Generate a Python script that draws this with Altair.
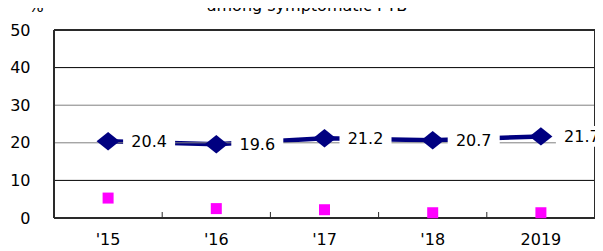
import altair as alt
import pandas as pd

years = ["'15", "'16", "'17", "'18", "2019"]
series_main = [20.4, 19.6, 21.2, 20.7, 21.7]
series_second = [5.3, 2.5, 2.2, 1.4, 1.4]
grid_values = [10, 20, 30, 40]
grid_colors = ["#000000", "#808080", "#808080", "#000000"]
y_tick_values = [0, 10, 20, 30, 40, 50]
title_text = "among symptomatic PTB*"
unit_text = "%"

W, H = 541, 188
FONT = "DejaVu Sans"

df = pd.DataFrame({"year": years, "main": series_main, "second": series_second,
                   "label": [f"{v:.1f}" for v in series_main]})
grid_df = pd.DataFrame({"g": grid_values})

yscale = alt.Scale(domain=[0, 50], nice=False, zero=True)
xenc = alt.X("year:N", sort=years, scale=alt.Scale(paddingInner=0, paddingOuter=0),
             axis=alt.Axis(title=None, ticks=False, domain=False, labelAngle=0,
                           labelFont=FONT, labelFontSize=16, labelColor="#000",
                           labelPadding=13, labelBaseline="top"))
yaxis = alt.Axis(title=None, values=y_tick_values, ticks=False, domain=False, grid=False,
                 labelFont=FONT, labelFontSize=16, labelColor="#000", labelPadding=24,
                 labelOverlap=False, labelFlush=False, labelBaseline="middle")

base = alt.Chart(df).encode(x=xenc)

def yq(field):
    return alt.Y(field, scale=yscale, axis=yaxis)

line = base.mark_line(color="#000080", strokeWidth=4.5).encode(y=yq("main:Q"))

grid = alt.Chart(grid_df).mark_rule(strokeWidth=1).encode(
    y=yq("g:Q"),
    color=alt.Color("g:N", scale=alt.Scale(domain=grid_values, range=grid_colors), legend=None),
)

frame_col = "#2a2a2a"
frame_top = alt.Chart(df).mark_rule(color=frame_col, strokeWidth=2).encode(
    x=alt.value(0), x2=alt.value(W), y=alt.value(0))
frame_bottom = alt.Chart(df).mark_rule(color=frame_col, strokeWidth=2).encode(
    x=alt.value(0), x2=alt.value(W), y=alt.value(H))
frame_left = alt.Chart(df).mark_rule(color=frame_col, strokeWidth=2).encode(
    x=alt.value(0), y=alt.value(0), y2=alt.value(H))
frame_right = alt.Chart(df).mark_rule(color=frame_col, strokeWidth=2).encode(
    x=alt.value(W), y=alt.value(0), y2=alt.value(H))

xticks = alt.Chart(df).mark_rule(color=frame_col, strokeWidth=1).encode(
    x=alt.X("year:N", sort=years, bandPosition=0),
    y=alt.value(H - 6), y2=alt.value(H))

diamonds = base.mark_point(shape="M-1,0L0,-0.8L1,0L0,0.8Z", filled=True, color="#000080",
                           opacity=1, size=530).encode(y=yq("main:Q"))
squares = base.mark_point(shape="square", filled=True, color="#FF00FF", opacity=1,
                          size=121).encode(y=yq("second:Q"))
boxes = base.mark_point(shape="M-1,-0.4H1V0.4H-1Z", filled=True, color="white", opacity=1,
                        size=2704, xOffset=41).encode(y=yq("main:Q"))
labels = base.mark_text(font=FONT, fontSize=16, color="#000", align="center",
                        baseline="middle", dx=41, dy=1).encode(
    y=yq("main:Q"), text="label:N")

title = alt.Chart(pd.DataFrame({"t": [title_text]})).mark_text(
    font=FONT, fontSize=16, color="#000", align="center", baseline="alphabetic").encode(
    x=alt.value(257), y=alt.value(-19), text="t:N")
unit = alt.Chart(pd.DataFrame({"t": [unit_text]})).mark_text(
    font=FONT, fontSize=16, color="#000", align="center", baseline="alphabetic").encode(
    x=alt.value(-18), y=alt.value(-18), text="t:N")

chart = alt.layer(
    line, grid, xticks, frame_top, frame_bottom, frame_left, frame_right,
    diamonds, squares, boxes, labels, title, unit
).resolve_scale(color="independent").properties(
    width=W, height=H,
    autosize=alt.AutoSizeParams(type="none"),
    padding={"left": 46, "top": 22, "right": 0, "bottom": 31},
).configure_view(stroke=None).configure(background="white")

chart.save("out.html", embed_options={"renderer": "svg", "actions": False})
